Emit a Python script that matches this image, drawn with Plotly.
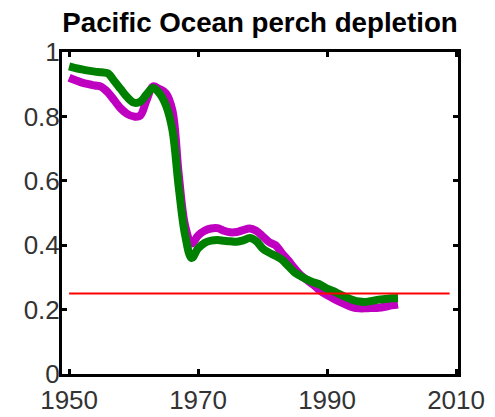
import plotly.graph_objects as go

years = list(range(1950, 2002))

green_vals = [0.955, 0.950, 0.946, 0.942, 0.939, 0.937, 0.934, 0.910, 0.885, 0.860,
              0.843, 0.845, 0.868, 0.888, 0.872, 0.835, 0.760, 0.580, 0.430, 0.360,
              0.390, 0.407, 0.414, 0.416, 0.414, 0.412, 0.411, 0.415, 0.422, 0.413,
              0.390, 0.377, 0.367, 0.355, 0.335, 0.315, 0.303, 0.292, 0.284, 0.277,
              0.265, 0.257, 0.247, 0.238, 0.230, 0.225, 0.224, 0.227, 0.231, 0.233,
              0.235, 0.236]

magenta_vals = [0.920, 0.912, 0.905, 0.900, 0.896, 0.892, 0.875, 0.850, 0.825, 0.808,
                0.800, 0.802, 0.850, 0.893, 0.885, 0.872, 0.820, 0.620, 0.460, 0.405,
                0.430, 0.445, 0.452, 0.453, 0.445, 0.440, 0.441, 0.447, 0.452, 0.445,
                0.428, 0.410, 0.400, 0.375, 0.352, 0.327, 0.305, 0.290, 0.275, 0.258,
                0.245, 0.234, 0.224, 0.215, 0.207, 0.204, 0.204, 0.205, 0.206, 0.209,
                0.213, 0.216]

ref_years = [1950, 2009]
ref_vals = [0.25, 0.25]

x_ticks = [1950, 1970, 1990, 2010]
y_ticks = [0, 0.2, 0.4, 0.6, 0.8, 1]
y_tick_text = ["0", "0.2", "0.4", "0.6", "0.8", "1"]

fig = go.Figure()
fig.add_trace(go.Scatter(x=years, y=magenta_vals, mode="lines",
                         line=dict(color="#C000C0", width=8, shape="spline"),
                         showlegend=False))
fig.add_trace(go.Scatter(x=years, y=green_vals, mode="lines",
                         line=dict(color="#008000", width=8, shape="spline"),
                         showlegend=False))
fig.add_trace(go.Scatter(x=ref_years, y=ref_vals, mode="lines",
                         line=dict(color="#FF0000", width=2),
                         showlegend=False))

axis_common = dict(showgrid=False, zeroline=False, showline=True, linecolor="black",
                   linewidth=3, mirror="ticks", ticks="inside", ticklen=5,
                   tickwidth=3, tickcolor="black", automargin=False,
                   tickfont=dict(family="Liberation Sans, Arial, sans-serif", size=26, color="#333"))

fig.update_xaxes(range=[1948.9, 2010.3], tickvals=x_ticks, ticklabelstandoff=1, **axis_common)
fig.update_yaxes(range=[0, 1], tickvals=y_ticks, ticktext=y_tick_text, ticklabelstandoff=-6, **axis_common)

# page body adds an 8px offset, so the figure is sized/margined to compensate
fig.update_layout(
    width=487, height=409,
    margin=dict(l=54, r=37, t=44, b=43),
    paper_bgcolor="white", plot_bgcolor="white",
    title=dict(text="<b>Pacific Ocean perch depletion</b>",
               font=dict(family="Liberation Sans, Arial, sans-serif", size=27.7, color="black"),
               x=0.5, xref="paper", xanchor="center",
               y=1 - 14 / 409, yref="container", yanchor="middle", automargin=False),
)

fig.write_html("out.html")
